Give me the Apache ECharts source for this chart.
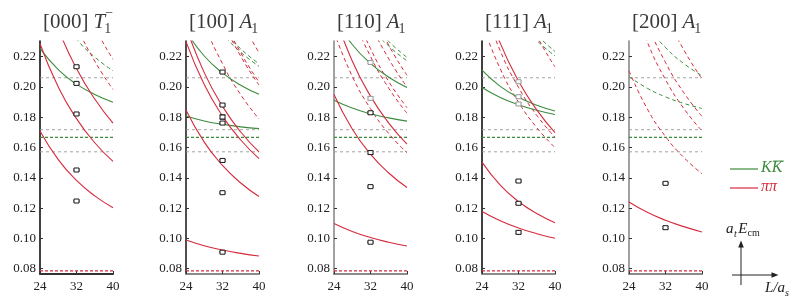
<!DOCTYPE html>
<html><head><meta charset="utf-8">
<script src="https://cdn.jsdelivr.net/npm/echarts@6/dist/echarts.min.js"></script>
<style>html,body{margin:0;padding:0;background:#fff}#c{width:797px;height:304px}</style>
</head><body><div id="c"></div>
<script>
// ---- sample box sizes L/a_s at which curves are tabulated ----
const Ls = [24, 28, 32, 36, 40];
const xTicks = [24, 32, 40];
const yTicks = [0.08, 0.10, 0.12, 0.14, 0.16, 0.18, 0.20, 0.22];

// ---- thresholds ----
const thrGray = [0.2061, 0.1718, 0.1572];
const thrKK = 0.1668;
const thrPiPi = 0.0786;

// ---- panel 1 : [000] T1- ----
const A_pp11 = [0.1709, 0.1520, 0.1383, 0.1281, 0.1203];
const A_pp22 = [0.2286, 0.2000, 0.1791, 0.1632, 0.1509];
const A_pp33 = [0.2744, 0.2386, 0.2122, 0.1921, 0.1762];
const A_kk11 = [0.2255, 0.2115, 0.2019, 0.1951, 0.1900];
const A_pp44d = [0.3135, 0.2718, 0.2408, 0.2171, 0.1984];
const A_pp55d = [0.3483, 0.3013, 0.2664, 0.2395, 0.2183];
const A_kk22d = [0.2718, 0.2483, 0.2318, 0.2198, 0.2107];
const A_pts = [0.2134, 0.2024, 0.1822, 0.1452, 0.1247];
const A_err = [0.0006, 0.0006, 0.0006, 0.0005, 0.0005];
const A_gray = [0, 0, 0, 0, 0];

// ---- panel 2 : [100] A1 ----
const B_pp01 = [0.0990, 0.0952, 0.0923, 0.0901, 0.0884];
const B_pp12 = [0.1848, 0.1636, 0.1482, 0.1366, 0.1277];
const B_pp14 = [0.2300, 0.2016, 0.1808, 0.1650, 0.1527];
const B_pp23 = [0.2397, 0.2095, 0.1872, 0.1703, 0.1571];
const B_kk01 = [0.1809, 0.1776, 0.1754, 0.1737, 0.1725];
const B_kk12 = [0.2368, 0.2205, 0.2093, 0.2012, 0.1952];
const B_pp25d = [0.2783, 0.2421, 0.2154, 0.1949, 0.1789];
const B_pp36d = [0.3182, 0.2758, 0.2444, 0.2203, 0.2013];
const B_pp45d = [0.3221, 0.2791, 0.2471, 0.2226, 0.2033];
const B_pp56d = [0.3562, 0.3080, 0.2721, 0.2446, 0.2228];
const B_kk14d = [0.2757, 0.2520, 0.2353, 0.2230, 0.2137];
const B_kk23d = [0.2815, 0.2562, 0.2383, 0.2252, 0.2154];
const B_pts = [0.2099, 0.1881, 0.1802, 0.1762, 0.1515, 0.1302, 0.0909];
const B_err = [0.0006, 0.0006, 0.0014, 0.0006, 0.0006, 0.0005, 0.0005];
const B_gray = [0, 0, 0, 0, 0, 0, 0];

// ---- panel 3 : [110] A1 ----
const C_pp02 = [0.1099, 0.1046, 0.1006, 0.0975, 0.0950];
const C_pp13 = [0.1951, 0.1723, 0.1557, 0.1432, 0.1336];
const C_pp24 = [0.2489, 0.2172, 0.1940, 0.1762, 0.1623];
const C_kk02 = [0.1913, 0.1861, 0.1823, 0.1796, 0.1775];
const C_kk13 = [0.2460, 0.2281, 0.2156, 0.2065, 0.1997];
const C_pp15d = [0.2364, 0.2071, 0.1857, 0.1693, 0.1566];
const C_pp26d = [0.2847, 0.2476, 0.2202, 0.1992, 0.1827];
const C_pp35d = [0.2923, 0.2538, 0.2254, 0.2036, 0.1864];
const C_pp28d = [0.3147, 0.2731, 0.2423, 0.2186, 0.2000];
const C_pp46d = [0.3297, 0.2855, 0.2528, 0.2276, 0.2077];
const C_kk15d = [0.2821, 0.2575, 0.2400, 0.2271, 0.2173];
const C_kk24d = [0.2899, 0.2631, 0.2441, 0.2301, 0.2196];
const C_pts = [0.2162, 0.1925, 0.1830, 0.1567, 0.1342, 0.0975];
const C_err = [0.0006, 0.0012, 0.0007, 0.0010, 0.0005, 0.0005];
const C_gray = [1, 1, 0, 0, 0, 0];

// ---- panel 4 : [111] A1 ----
const D_pp03 = [0.1178, 0.1117, 0.1069, 0.1031, 0.1001];
const D_pp12 = [0.1504, 0.1352, 0.1244, 0.1164, 0.1103];
const D_pp34 = [0.2629, 0.2290, 0.2040, 0.1849, 0.1699];
const D_kk03 = [0.1997, 0.1931, 0.1883, 0.1846, 0.1818];
const D_kk12 = [0.2111, 0.2004, 0.1932, 0.1880, 0.1842];
const D_pp16d = [0.2421, 0.2120, 0.1900, 0.1732, 0.1600];
const D_pp25d = [0.2568, 0.2239, 0.1998, 0.1813, 0.1669];
const D_pp56d = [0.3396, 0.2939, 0.2600, 0.2339, 0.2133];
const D_kk16d = [0.2879, 0.2624, 0.2443, 0.2308, 0.2206];
const D_kk25d = [0.2972, 0.2692, 0.2493, 0.2346, 0.2235];
const D_pts = [0.2035, 0.1936, 0.1888, 0.1379, 0.1232, 0.1040];
const D_err = [0.0006, 0.0006, 0.0006, 0.0006, 0.0006, 0.0009];
const D_gray = [1, 1, 1, 0, 0, 0];

// ---- panel 5 : [200] A1 ----
const E_pp04 = [0.1241, 0.1173, 0.1120, 0.1078, 0.1043];
const E_pp15d = [0.2107, 0.1856, 0.1673, 0.1535, 0.1427];
const E_pp26d = [0.2637, 0.2299, 0.2049, 0.1859, 0.1710];
const E_pp19d = [0.2777, 0.2423, 0.2162, 0.1963, 0.1806];
const E_pp210d = [0.3236, 0.2807, 0.2490, 0.2246, 0.2054];
const E_kk04d = [0.2069, 0.1992, 0.1935, 0.1892, 0.1858];
const E_kk15d = [0.2609, 0.2405, 0.2261, 0.2155, 0.2075];
const E_pts = [0.1364, 0.1071];
const E_err = [0.0005, 0.0008];
const E_gray = [0, 0];

const titleMain = ['[000]', '[100]', '[110]', '[111]', '[200]'];
const titleSym = ['T', 'A', 'A', 'A', 'A'];
const titleSub = ['1', '1', '1', '1', '1'];
const titleSup = ['\u2212', '', '', '', ''];

const panels = [
  {rs:[A_pp11,A_pp22,A_pp33], rd:[A_pp44d,A_pp55d], gs:[A_kk11], gd:[A_kk22d], pts:A_pts, err:A_err, gray:A_gray},
  {rs:[B_pp01,B_pp12,B_pp14,B_pp23], rd:[B_pp25d,B_pp36d,B_pp45d,B_pp56d], gs:[B_kk01,B_kk12], gd:[B_kk14d,B_kk23d], pts:B_pts, err:B_err, gray:B_gray},
  {rs:[C_pp02,C_pp13,C_pp24], rd:[C_pp15d,C_pp26d,C_pp35d,C_pp28d,C_pp46d], gs:[C_kk02,C_kk13], gd:[C_kk15d,C_kk24d], pts:C_pts, err:C_err, gray:C_gray},
  {rs:[D_pp03,D_pp12,D_pp34], rd:[D_pp16d,D_pp25d,D_pp56d], gs:[D_kk03,D_kk12], gd:[D_kk16d,D_kk25d], pts:D_pts, err:D_err, gray:D_gray},
  {rs:[E_pp04], rd:[E_pp15d,E_pp26d,E_pp19d,E_pp210d], gs:[], gd:[E_kk04d,E_kk15d], pts:E_pts, err:E_err, gray:E_gray}
];

// ---- layout / style ----
const RED = '#d52b3c', GREEN = '#3d8b3d', GRAYL = '#9a9a9a';
const FONT = 'Liberation Serif';
const gridLeft = [40, 186, 334, 482, 629];
const gridW = 73, gridTop = 41, gridH = 233;
const yMin = 0.0765, yMax = 0.2304;
const yAxisCol = ['#111', '#222', '#8a8a8a', '#111', '#8a8a8a'];
const xAxisCol = ['#333', '#8a8a8a', '#8a8a8a', '#8a8a8a', '#8a8a8a'];

const chart = echarts.init(document.getElementById('c'), null, {renderer:'canvas'});
const option = {animation:false, grid:[], xAxis:[], yAxis:[], series:[], graphic:[]};

function curve(i, arr, color, dashed){
  return {type:'line', xAxisIndex:i, yAxisIndex:i, data: Ls.map((x,j)=>[x, arr[j]]),
    showSymbol:false, symbol:'none', smooth:0.5, silent:true, z: dashed?2:3,
    lineStyle:{color, width: dashed?1:1.1, type: dashed?[4,3]:'solid'}};
}
function hline(i, v, color, dash, w){
  return {type:'line', xAxisIndex:i, yAxisIndex:i, data:[[24,v],[40,v]], showSymbol:false, symbol:'none', silent:true, z:1,
    lineStyle:{color, width:w, type:dash}};
}
function renderPt(params, api){
  const x = api.value(0), y = api.value(1), e = api.value(2);
  const col = api.value(3) ? '#9a9a9a' : '#1a1a1a';
  const c = api.coord([x, y]);
  const t = api.coord([x, y + e]);
  const b = api.coord([x, y - e]);
  const st = {stroke: col, lineWidth: 1};
  return {type:'group', children:[
    {type:'line', shape:{x1:c[0], y1:t[1], x2:c[0], y2:b[1]}, style:st},
    {type:'line', shape:{x1:c[0]-3, y1:t[1], x2:c[0]+3, y2:t[1]}, style:st},
    {type:'line', shape:{x1:c[0]-3, y1:b[1], x2:c[0]+3, y2:b[1]}, style:st},
    {type:'rect', shape:{x:c[0]-2.5, y:c[1]-2, width:5, height:4}, style:{fill:'#fff', stroke:col, lineWidth:1}}
  ]};
}

panels.forEach((p, i) => {
  option.grid.push({left:gridLeft[i], top:gridTop, width:gridW, height:gridH});
  option.xAxis.push({gridIndex:i, type:'value', min:24, max:40,
    axisLine:{show:true, onZero:false, lineStyle:{color:xAxisCol[i], width:2}},
    axisTick:{show:true, inside:true, length:3, customValues:xTicks, lineStyle:{color:'#333'}},
    axisLabel:{customValues:xTicks, margin:6, fontFamily:FONT, fontSize:13, color:'#222'},
    splitLine:{show:false}});
  option.yAxis.push({gridIndex:i, type:'value', min:yMin, max:yMax,
    axisLine:{show:true, onZero:false, lineStyle:{color:yAxisCol[i], width:1.6}},
    axisTick:{show:true, inside:true, length:3, customValues:yTicks, lineStyle:{color:'#333'}},
    axisLabel:{customValues:yTicks, formatter:v=>v.toFixed(2), margin:4, fontFamily:FONT, fontSize:13, color:'#222'},
    splitLine:{show:false}});
  thrGray.forEach(v => option.series.push(hline(i, v, GRAYL, [3,3], 0.9)));
  option.series.push(hline(i, thrKK, GREEN, [3,2], 1.2));
  option.series.push(hline(i, thrPiPi, RED, [3,2], 1.2));
  p.gd.forEach(a => option.series.push(curve(i, a, GREEN, true)));
  p.rd.forEach(a => option.series.push(curve(i, a, RED, true)));
  p.gs.forEach(a => option.series.push(curve(i, a, GREEN, false)));
  p.rs.forEach(a => option.series.push(curve(i, a, RED, false)));
  option.series.push({type:'custom', xAxisIndex:i, yAxisIndex:i, silent:true, z:10, clip:false,
    data: p.pts.map((v,j)=>[32, v, p.err[j], p.gray[j]]), renderItem: renderPt});
});

// ---- text helpers ----
const mctx = document.createElement('canvas').getContext('2d');
function tw(t, size, italic){ mctx.font = (italic?'italic ':'') + size + 'px "' + FONT + '"'; return mctx.measureText(t).width; }
const G = option.graphic;
function txt(x, y, t, size, extra){
  G.push({type:'text', x, y, silent:true, z:100,
    style:Object.assign({text:t, fontFamily:FONT, fontSize:size, fill:'#222', verticalAlign:'middle', align:'left'}, extra||{})});
}
function seg(x1, y1, x2, y2, color, w){ G.push({type:'line', silent:true, z:100, shape:{x1,y1,x2,y2}, style:{stroke:color, lineWidth:w}}); }
function tri(points, color){ G.push({type:'polygon', silent:true, z:100, shape:{points}, style:{fill:color}}); }

// titles
titleMain.forEach((m, i) => {
  const x0 = gridLeft[i] + 3;
  const col = '#3a3a3a';
  txt(x0, 22, m, 21, {fill:col});
  const xs = x0 + tw(m, 21) + 5;
  txt(xs, 22, titleSym[i], 21, {fill:col, fontStyle:'italic'});
  const ws = tw(titleSym[i], 21, true);
  if (titleSub[i]) txt(xs + ws - 1, 29, titleSub[i], 14, {fill:col});
  if (titleSup[i]) txt(xs + ws, 13, titleSup[i], 14, {fill:col});
});

// legend
seg(730, 169, 758, 169, GREEN, 1.2);
seg(730, 188, 758, 188, RED, 1.2);
txt(761, 168, 'KK', 16, {fill:GREEN, fontStyle:'italic'});
const wK = tw('K', 16, true);
seg(761 + wK + 1.5, 161, 761 + 2*wK + 1.5, 161, GREEN, 0.9);
txt(761, 187, '\u03c0\u03c0', 16, {fill:RED, fontStyle:'italic'});

// axes diagram
let ax = 726;
txt(ax, 229, 'a', 15, {fontStyle:'italic'});
ax += tw('a', 15, true) + 0.5;
txt(ax, 234, 't', 10, {fontStyle:'italic'});
ax += tw('t', 10, true) + 1.5;
txt(ax, 229, 'E', 15, {fontStyle:'italic'});
ax += tw('E', 15, true);
txt(ax, 233, 'cm', 10);
seg(741, 285, 741, 246, '#222', 1);
tri([[741, 240.5], [738.2, 247.5], [743.8, 247.5]], '#222');
seg(732, 275, 772, 275, '#222', 1);
tri([[778.5, 275], [771.5, 272.2], [771.5, 277.8]], '#222');
txt(765, 288, 'L/a', 15, {fontStyle:'italic'});
txt(765 + tw('L/a', 15, true), 293, 's', 10, {fontStyle:'italic'});

chart.setOption(option);
</script>
</body></html>
